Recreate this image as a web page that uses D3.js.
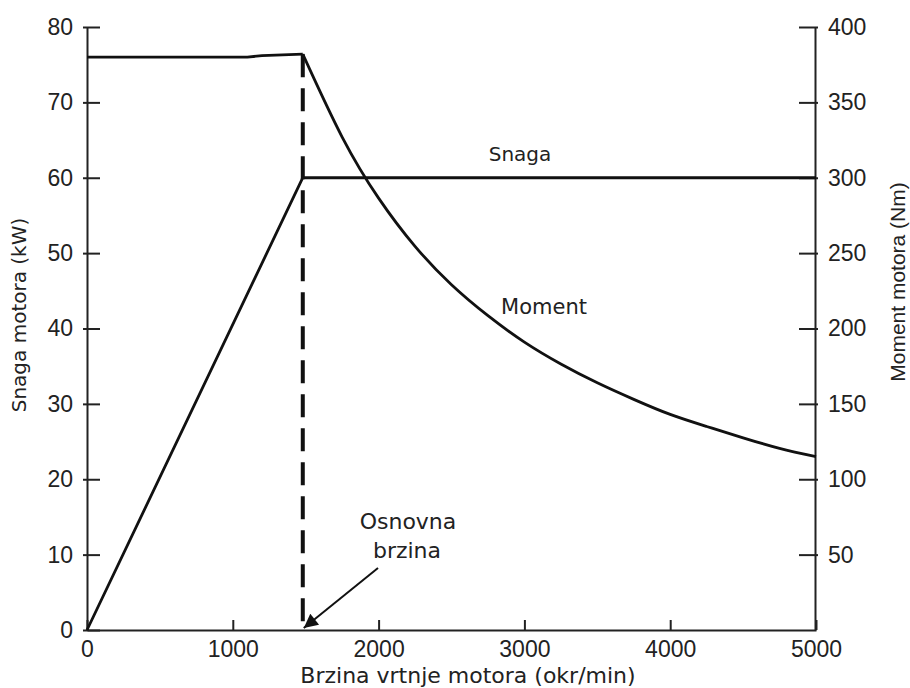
<!DOCTYPE html>
<html lang="hr">
<head>
<meta charset="UTF-8">
<title>Snaga i moment motora</title>
<script src="https://d3js.org/d3.v7.min.js"></script>
<style>
  body { margin: 0; background: #fff; }
  .axis text { font-family: "Liberation Sans", Arial, sans-serif; font-size: 23px; fill: #222; }
  .axis path, .axis line { stroke: #222; stroke-width: 2px; }
  .lbl { font-family: "DejaVu Sans", Verdana, sans-serif; font-size: 20px; fill: #222; }
</style>
</head>
<body>
<svg width="910" height="688"></svg>
<script>
// speed in okr/min
const powerSpeed = [0, 1480, 5000];
const powerKW = [0, 60, 60];

const torqueSpeed = [0, 1100, 1200, 1480, 1750, 2000, 2250, 2500, 2750, 3000, 3250, 3500, 3750, 4000, 4250, 4500, 4750, 5000];
const torqueNm = [380, 380, 381, 382, 327, 286.5, 254.5, 229, 208.5, 191, 176.5, 164, 153, 143, 135, 127.5, 120.5, 115];
const kneeIndex = 3;

const xTicks = [0, 1000, 2000, 3000, 4000, 5000];
const leftTicks = [0, 10, 20, 30, 40, 50, 60, 70, 80];
const rightTicks = [50, 100, 150, 200, 250, 300, 350, 400];
const baseSpeed = 1480;

const svg = d3.select("svg");

const x = d3.scaleLinear().domain([0, 5000]).range([87, 816]);
const yP = d3.scaleLinear().domain([0, 80]).range([630, 27]);
const yT = d3.scaleLinear().domain([0, 400]).range([630, 27]);

// axes
const gx = svg.append("g").attr("class", "axis")
    .attr("transform", "translate(0,630)")
    .call(d3.axisBottom(x).tickValues(xTicks).tickFormat(d3.format("d"))
        .tickSizeInner(-10).tickSizeOuter(0).tickPadding(9));
gx.selectAll(".tick text").attr("dy", "0.8em");

const gl = svg.append("g").attr("class", "axis")
    .attr("transform", "translate(87,0)")
    .call(d3.axisLeft(yP).tickValues(leftTicks).tickSizeInner(-13).tickSizeOuter(0).tickPadding(14));
gl.selectAll(".tick line").attr("x1", -4);

const gr = svg.append("g").attr("class", "axis")
    .attr("transform", "translate(815,0)")
    .call(d3.axisRight(yT).tickValues(rightTicks).tickSizeInner(-16).tickSizeOuter(0).tickPadding(13));
gr.selectAll(".tick line").attr("x1", 3);

// power
svg.append("path")
    .datum(powerSpeed.map((s, i) => [s, powerKW[i]]))
    .attr("fill", "none").attr("stroke", "#111").attr("stroke-width", 2.8)
    .attr("d", d3.line().x(d => x(d[0])).y(d => yP(d[1])));

// torque
const tData = torqueSpeed.map((s, i) => [s, torqueNm[i]]);
svg.append("path")
    .datum(tData.slice(0, kneeIndex + 1))
    .attr("fill", "none").attr("stroke", "#111").attr("stroke-width", 2.8)
    .attr("d", d3.line().x(d => x(d[0])).y(d => yT(d[1])));
svg.append("path")
    .datum(tData.slice(kneeIndex))
    .attr("fill", "none").attr("stroke", "#111").attr("stroke-width", 2.8)
    .attr("d", d3.line().curve(d3.curveNatural).x(d => x(d[0])).y(d => yT(d[1])));

// base speed marker
svg.append("line")
    .attr("x1", x(baseSpeed)).attr("x2", x(baseSpeed))
    .attr("y1", yT(382)).attr("y2", yT(0))
    .attr("stroke", "#111").attr("stroke-width", 4)
    .attr("stroke-dasharray", "23 11");

svg.append("defs").append("marker")
    .attr("id", "head").attr("viewBox", "0 0 10 10")
    .attr("refX", 10).attr("refY", 5)
    .attr("markerWidth", 20).attr("markerHeight", 14)
    .attr("markerUnits", "userSpaceOnUse")
    .attr("orient", "auto")
  .append("path").attr("d", "M0,0L10,5L0,10Z").attr("fill", "#111");

svg.append("line")
    .attr("x1", 378).attr("y1", 568)
    .attr("x2", x(baseSpeed) + 1).attr("y2", 628)
    .attr("stroke", "#111").attr("stroke-width", 2)
    .attr("marker-end", "url(#head)");

// labels
svg.append("text").attr("class", "lbl").attr("x", 408).attr("y", 529)
    .attr("text-anchor", "middle").style("font-size", "22px").text("Osnovna");
svg.append("text").attr("class", "lbl").attr("x", 407).attr("y", 558)
    .attr("text-anchor", "middle").style("font-size", "22px").text("brzina");
svg.append("text").attr("class", "lbl").attr("x", 520).attr("y", 161)
    .attr("text-anchor", "middle").text("Snaga");
svg.append("text").attr("class", "lbl").attr("x", 544).attr("y", 314)
    .attr("text-anchor", "middle").style("font-size", "21px").text("Moment");

svg.append("text").attr("class", "lbl").attr("x", 468).attr("y", 683)
    .attr("text-anchor", "middle").style("font-size", "22px").text("Brzina vrtnje motora (okr/min)");
svg.append("text").attr("class", "lbl")
    .attr("transform", "translate(26,315) rotate(-90)")
    .attr("text-anchor", "middle").text("Snaga motora (kW)");
svg.append("text")
    .attr("transform", "translate(905,282) rotate(-90)")
    .attr("text-anchor", "middle")
    .style("font-family", "'Liberation Sans', Arial, sans-serif")
    .style("font-size", "21px").style("fill", "#222")
    .text("Moment motora (Nm)");
</script>
</body>
</html>
